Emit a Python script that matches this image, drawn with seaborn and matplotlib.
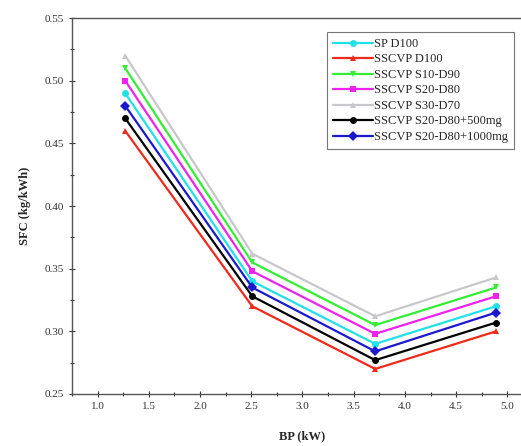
import numpy as np
import pandas as pd
import matplotlib
matplotlib.use("Agg")
import matplotlib.pyplot as plt
import seaborn as sns
from matplotlib.ticker import MultipleLocator, FormatStrFormatter

bp = [1.27, 2.51, 3.71, 4.89]
series_names = ["SP D100", "SSCVP D100", "SSCVP S10-D90", "SSCVP S20-D80",
                "SSCVP S30-D70", "SSCVP S20-D80+500mg", "SSCVP S20-D80+1000mg"]
sp_d100 = [0.490, 0.340, 0.290, 0.320]
sscvp_d100 = [0.460, 0.320, 0.270, 0.300]
s10_d90 = [0.510, 0.355, 0.305, 0.335]
s20_d80 = [0.500, 0.348, 0.298, 0.328]
s30_d70 = [0.520, 0.362, 0.312, 0.343]
s20_500 = [0.470, 0.328, 0.277, 0.307]
s20_1000 = [0.480, 0.335, 0.284, 0.315]
all_vals = [sp_d100, sscvp_d100, s10_d90, s20_d80, s30_d70, s20_500, s20_1000]
colors = ["#22e0e8", "#ee2a1a", "#33ee33", "#ee22ee", "#c8c8cc", "#000000", "#1a1acc"]
markers = ["o", "^", "v", "s", "^", "o", "D"]

rows = []
for name, vals in zip(series_names, all_vals):
    for x, y in zip(bp, vals):
        rows.append({"BP": x, "SFC": y, "Fuel": name})
df = pd.DataFrame(rows)

sns.set_style("ticks")
plt.rcParams["font.family"] = ["Liberation Serif", "DejaVu Serif"]

fig = plt.figure(figsize=(5.21, 4.46), dpi=100)
ax = fig.add_axes([0.138, 0.1166, 0.885, 0.843])

sns.lineplot(data=df, x="BP", y="SFC", hue="Fuel", style="Fuel",
             hue_order=series_names, style_order=series_names,
             palette=dict(zip(series_names, colors)),
             markers=dict(zip(series_names, markers)), dashes=False,
             markersize=5, linewidth=1.6, markeredgewidth=0, ax=ax)

ax.set_xlim(0.75, 5.25)
ax.set_ylim(0.25, 0.55)
ax.xaxis.set_major_locator(MultipleLocator(0.5))
ax.xaxis.set_minor_locator(MultipleLocator(0.25))
ax.yaxis.set_major_locator(MultipleLocator(0.05))
ax.yaxis.set_minor_locator(MultipleLocator(0.025))
ax.xaxis.set_major_formatter(FormatStrFormatter("%.1f"))
ax.yaxis.set_major_formatter(FormatStrFormatter("%.2f"))
ax.tick_params(axis="both", which="major", labelsize=8, length=4, width=0.8,
               direction="inout", colors="#333333")
ax.tick_params(axis="both", which="minor", length=3, width=0.8, direction="inout", colors="#333333")
for s in ax.spines.values():
    s.set_linewidth(1.0)
    s.set_color("#555555")

ax.set_xlabel("BP (kW)", fontsize=9, fontweight="bold", labelpad=14)
ax.set_ylabel("SFC (kg/kWh)", fontsize=9, fontweight="bold", labelpad=10)

leg = ax.legend(loc="upper left", bbox_to_anchor=(0.553, 0.962), fontsize=9,
                frameon=True, fancybox=False, edgecolor="#555555",
                handlelength=3.2, handletextpad=0.15, labelspacing=0.28,
                borderpad=0.45, borderaxespad=0)
leg.get_frame().set_linewidth(0.8)

fig.savefig("out.png", dpi=100)
